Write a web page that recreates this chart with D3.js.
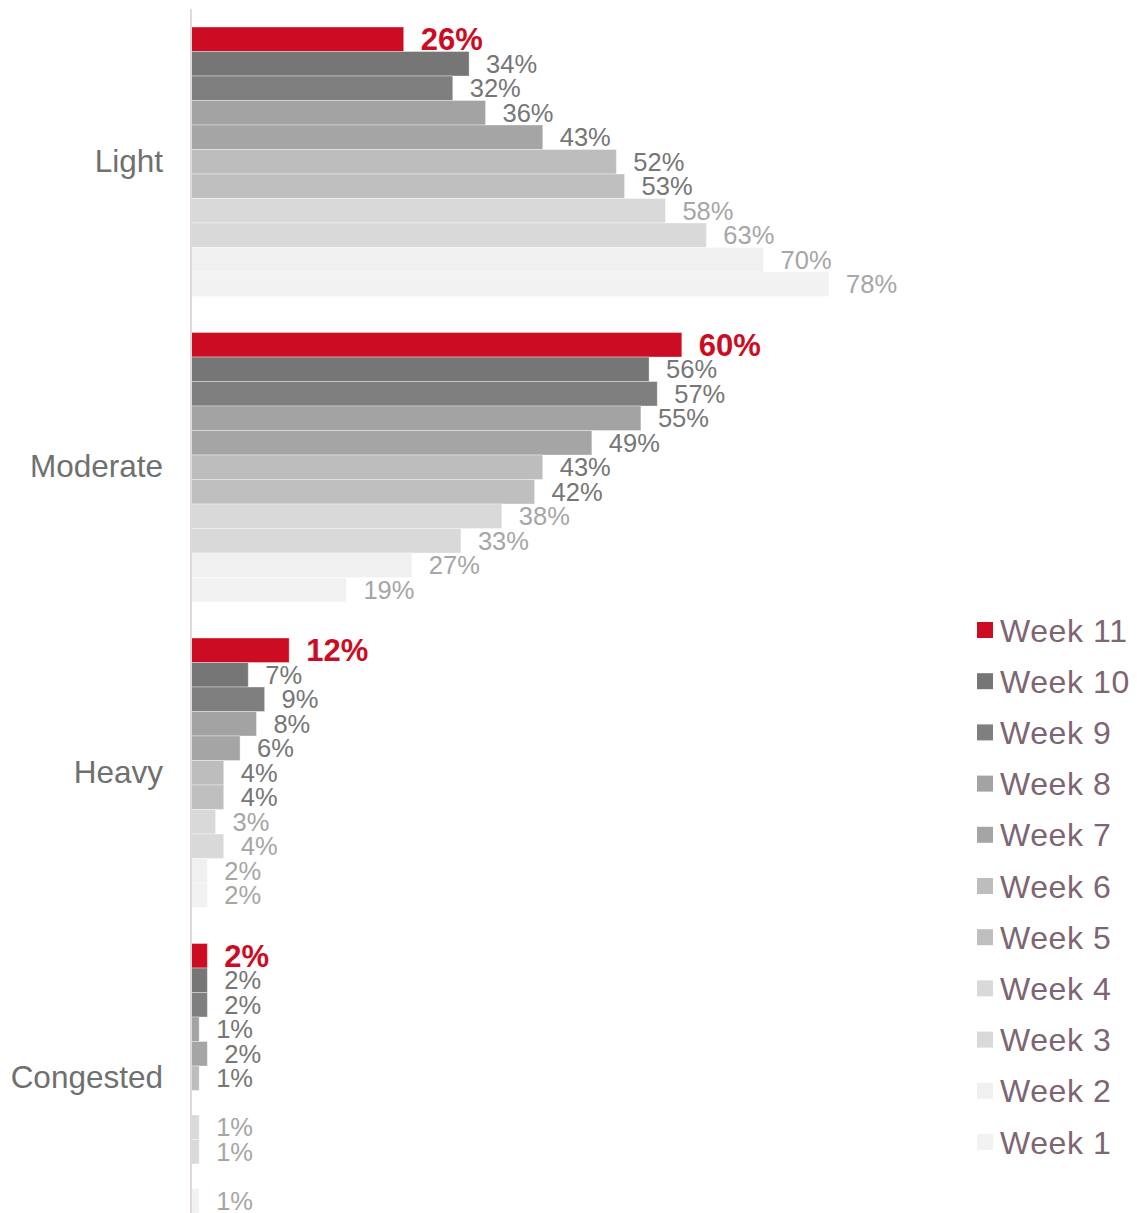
<!DOCTYPE html>
<html>
<head>
<meta charset="utf-8">
<script src="https://cdn.jsdelivr.net/npm/d3@7"></script>
<style>
  html, body { margin: 0; padding: 0; background: #fff; }
  svg { display: block; font-family: "Liberation Sans", Arial, sans-serif; }
</style>
</head>
<body>
<svg id="chart" width="1137" height="1213"></svg>
<script>
const categories = ["Light", "Moderate", "Heavy", "Congested"];
const seriesNames = ["Week 11", "Week 10", "Week 9", "Week 8", "Week 7", "Week 6", "Week 5", "Week 4", "Week 3", "Week 2", "Week 1"];
// values per series, in category order (Light, Moderate, Heavy, Congested); null = no bar
const week11 = [26, 60, 12, 2];
const week10 = [34, 56, 7, 2];
const week9  = [32, 57, 9, 2];
const week8  = [36, 55, 8, 1];
const week7  = [43, 49, 6, 2];
const week6  = [52, 43, 4, 1];
const week5  = [53, 42, 4, null];
const week4  = [58, 38, 3, 1];
const week3  = [63, 33, 4, 1];
const week2  = [70, 27, 2, null];
const week1  = [78, 19, 2, 1];
const seriesValues = [week11, week10, week9, week8, week7, week6, week5, week4, week3, week2, week1];
const barColors = ["#cc0c22", "#767676", "#7f7f7f", "#a3a3a3", "#a5a5a5", "#bdbdbd", "#bfbfbf", "#d9d9d9", "#d9d9d9", "#f0f0f0", "#f2f2f2"];
const labelColors = ["#cc0c22", "#767676", "#767676", "#767676", "#767676", "#767676", "#767676", "#a6a6a6", "#a6a6a6", "#a6a6a6", "#a6a6a6"];

const svg = d3.select("#chart");

const x = d3.scaleLinear().domain([0, 100]).range([191, 1009]);
const y0 = d3.scaleBand().domain(categories).range([9, 1231]).paddingInner(0.118).paddingOuter(0.059);
const y1 = d3.scaleBand().domain(seriesNames).range([0, y0.bandwidth()]);

const rows = [];
categories.forEach((c, ci) => {
  seriesNames.forEach((s, si) => {
    rows.push({cat: c, series: s, si: si, value: seriesValues[si][ci]});
  });
});
const valid = rows.filter(d => d.value !== null);

// bars
svg.append("g").selectAll("rect").data(valid).join("rect")
  .attr("x", x(0))
  .attr("y", d => y0(d.cat) + y1(d.series))
  .attr("width", d => x(d.value) - x(0))
  .attr("height", y1.bandwidth())
  .attr("fill", d => barColors[d.si])
  .attr("stroke", "rgba(255,255,255,0.35)")
  .attr("stroke-width", 1);

// value labels
svg.append("g").selectAll("text").data(valid).join("text")
  .attr("x", d => x(d.value) + 17)
  .attr("y", d => y0(d.cat) + y1(d.series) + y1.bandwidth() / 2)
  .attr("dy", "0.36em")
  .attr("fill", d => labelColors[d.si])
  .attr("font-size", d => d.si === 0 ? "31px" : "25.5px")
  .attr("font-weight", d => d.si === 0 ? "bold" : "normal")
  .text(d => d.value + "%");

// category axis
const yAxis = d3.axisLeft(y0).tickSize(0).tickPadding(28);
const ag = svg.append("g").attr("transform", `translate(${x(0)},0)`).call(yAxis);
ag.select(".domain").remove();
ag.selectAll("text")
  .attr("font-size", "31.5px")
  .attr("fill", "#707070")
  .attr("font-family", "'Liberation Sans', Arial, sans-serif");
svg.append("line")
  .attr("x1", x(0)).attr("x2", x(0))
  .attr("y1", 9).attr("y2", 1213)
  .attr("stroke", "#e2d9de").attr("stroke-width", 2);

// legend
const legend = svg.append("g");
const lg = legend.selectAll("g").data(seriesNames).join("g")
  .attr("transform", (d, i) => `translate(977, ${630 + i * 51.2})`);
lg.append("rect")
  .attr("x", 0).attr("y", -8)
  .attr("width", 16).attr("height", 16)
  .attr("fill", (d, i) => barColors[i]);
lg.append("text")
  .attr("x", 23).attr("y", 0).attr("dy", "0.36em")
  .attr("font-size", "32px")
  .attr("letter-spacing", "0.6px")
  .attr("fill", "#7d6574")
  .text(d => d);
</script>
</body>
</html>
